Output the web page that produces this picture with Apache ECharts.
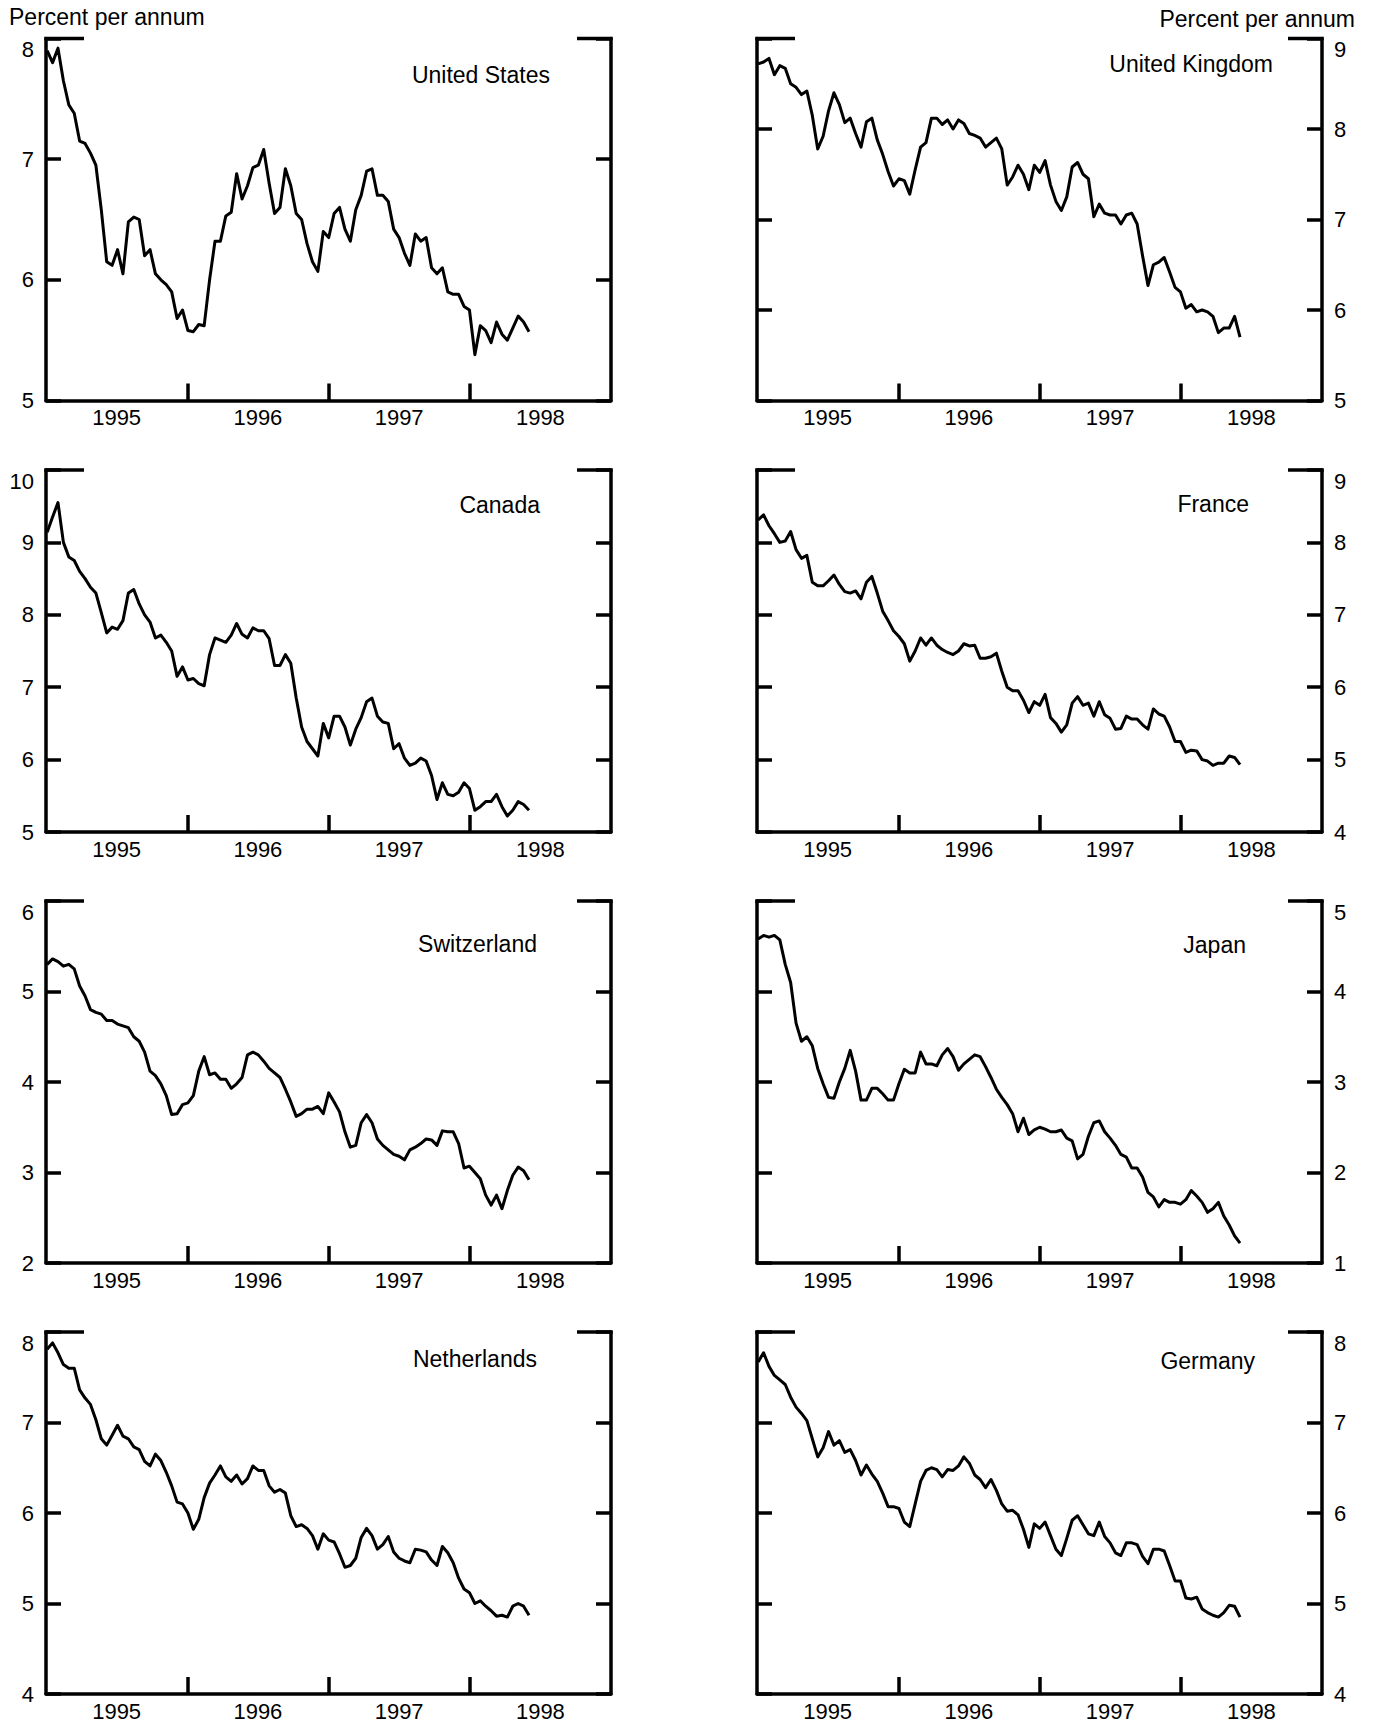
<!DOCTYPE html>
<html>
<head>
<meta charset="utf-8">
<script src="https://cdn.jsdelivr.net/npm/echarts@6/dist/echarts.min.js"></script>
<style>
html,body{margin:0;padding:0;background:#ffffff;}
#chart{width:1374px;height:1726px;}
</style>
</head>
<body>
<div id="chart"></div>
<script>
// ---------------- data ----------------
const yearLabels = ['1995', '1996', '1997', '1998'];
const yAxisUnit = 'Percent per annum';
const sampleStepDays = 14;   // one reading every two weeks, starting early Jan 1995
const sampleOffsetDays = 3;

const usRates = [7.9,7.8,7.92,7.65,7.45,7.38,7.15,7.13,7.05,6.95,
  6.58,6.15,6.12,6.25,6.05,6.48,6.52,6.5,6.2,6.25,
  6.05,6.0,5.96,5.9,5.68,5.75,5.58,5.57,5.63,5.62,
  6.0,6.32,6.32,6.53,6.56,6.88,6.67,6.78,6.93,6.95,
  7.08,6.8,6.55,6.6,6.92,6.78,6.55,6.5,6.3,6.15,
  6.07,6.4,6.35,6.55,6.6,6.42,6.32,6.58,6.7,6.9,
  6.92,6.7,6.7,6.65,6.42,6.35,6.22,6.12,6.38,6.32,
  6.35,6.1,6.05,6.1,5.9,5.88,5.88,5.78,5.75,5.38,
  5.62,5.58,5.48,5.65,5.55,5.5,5.6,5.7,5.65,5.57];

const ukRates = [8.72,8.74,8.78,8.6,8.7,8.67,8.5,8.46,8.38,8.42,
  8.15,7.78,7.92,8.2,8.4,8.27,8.07,8.12,7.95,7.8,
  8.08,8.12,7.88,7.72,7.53,7.37,7.45,7.43,7.28,7.55,
  7.8,7.85,8.12,8.12,8.05,8.1,8.0,8.1,8.06,7.95,
  7.93,7.9,7.8,7.85,7.9,7.78,7.38,7.47,7.6,7.5,
  7.33,7.6,7.52,7.65,7.38,7.2,7.1,7.25,7.58,7.63,
  7.5,7.45,7.03,7.17,7.07,7.05,7.05,6.95,7.05,7.07,
  6.95,6.6,6.27,6.5,6.53,6.58,6.42,6.25,6.2,6.02,
  6.06,5.98,6.0,5.98,5.93,5.75,5.8,5.8,5.93,5.7];

const caRates = [9.14,9.35,9.55,9.0,8.8,8.75,8.6,8.5,8.38,8.3,
  8.03,7.75,7.83,7.8,7.92,8.3,8.35,8.15,8.0,7.9,
  7.68,7.72,7.62,7.5,7.15,7.28,7.1,7.12,7.05,7.02,
  7.45,7.68,7.65,7.62,7.72,7.88,7.73,7.68,7.82,7.78,
  7.78,7.67,7.3,7.3,7.45,7.33,6.85,6.45,6.25,6.15,
  6.05,6.5,6.3,6.6,6.6,6.45,6.2,6.42,6.58,6.8,
  6.85,6.6,6.52,6.5,6.15,6.22,6.02,5.92,5.95,6.02,
  5.98,5.78,5.45,5.68,5.52,5.5,5.55,5.68,5.6,5.3,
  5.35,5.42,5.42,5.52,5.35,5.22,5.3,5.42,5.38,5.3];

const frRates = [8.31,8.38,8.23,8.12,8.0,8.02,8.15,7.9,7.78,7.82,
  7.45,7.4,7.4,7.47,7.55,7.42,7.32,7.3,7.33,7.22,
  7.45,7.53,7.3,7.05,6.92,6.78,6.7,6.6,6.36,6.5,
  6.68,6.58,6.68,6.58,6.52,6.48,6.45,6.5,6.6,6.57,
  6.58,6.4,6.4,6.42,6.47,6.22,6.0,5.95,5.95,5.82,
  5.65,5.8,5.75,5.9,5.58,5.5,5.38,5.48,5.78,5.87,
  5.75,5.78,5.6,5.8,5.62,5.57,5.42,5.43,5.6,5.56,
  5.56,5.48,5.42,5.7,5.63,5.6,5.45,5.25,5.25,5.1,
  5.13,5.12,5.0,4.98,4.92,4.95,4.95,5.05,5.03,4.93];

const chRates = [5.3,5.36,5.33,5.28,5.3,5.25,5.06,4.95,4.8,4.77,
  4.75,4.68,4.68,4.64,4.62,4.6,4.5,4.45,4.33,4.12,
  4.07,3.98,3.85,3.64,3.65,3.75,3.77,3.85,4.12,4.28,
  4.08,4.1,4.03,4.03,3.93,3.98,4.05,4.3,4.33,4.3,
  4.23,4.15,4.1,4.05,3.92,3.78,3.62,3.65,3.7,3.7,
  3.73,3.65,3.88,3.78,3.67,3.45,3.28,3.3,3.55,3.64,
  3.55,3.37,3.3,3.25,3.2,3.18,3.14,3.25,3.28,3.32,
  3.37,3.36,3.3,3.46,3.45,3.45,3.32,3.05,3.07,3.0,
  2.93,2.75,2.64,2.75,2.6,2.8,2.97,3.06,3.02,2.92];

const jpRates = [4.58,4.62,4.6,4.62,4.57,4.3,4.1,3.65,3.45,3.5,
  3.4,3.15,2.98,2.83,2.82,3.0,3.15,3.35,3.12,2.8,
  2.8,2.93,2.93,2.87,2.8,2.8,2.98,3.14,3.1,3.1,
  3.33,3.2,3.2,3.18,3.3,3.37,3.28,3.13,3.2,3.25,
  3.3,3.28,3.17,3.05,2.92,2.83,2.75,2.65,2.45,2.6,
  2.42,2.47,2.5,2.48,2.45,2.45,2.47,2.38,2.35,2.15,
  2.2,2.4,2.55,2.57,2.45,2.38,2.3,2.2,2.17,2.05,
  2.05,1.95,1.78,1.73,1.62,1.7,1.67,1.67,1.65,1.7,
  1.8,1.74,1.67,1.56,1.6,1.67,1.52,1.42,1.3,1.22];

const nlRates = [7.81,7.88,7.77,7.64,7.6,7.6,7.36,7.27,7.2,7.03,
  6.82,6.75,6.86,6.97,6.85,6.82,6.73,6.7,6.57,6.52,
  6.65,6.58,6.45,6.3,6.12,6.1,6.0,5.82,5.93,6.17,
  6.33,6.42,6.52,6.4,6.35,6.42,6.32,6.38,6.52,6.47,
  6.47,6.3,6.23,6.26,6.22,5.97,5.85,5.87,5.83,5.75,
  5.6,5.77,5.7,5.68,5.55,5.4,5.42,5.5,5.73,5.83,
  5.75,5.6,5.65,5.74,5.57,5.5,5.47,5.45,5.6,5.59,
  5.57,5.48,5.42,5.63,5.56,5.45,5.28,5.16,5.12,5.0,
  5.03,4.97,4.92,4.86,4.87,4.85,4.97,5.0,4.97,4.87];

const deRates = [7.67,7.77,7.62,7.52,7.47,7.42,7.28,7.17,7.1,7.02,
  6.82,6.62,6.72,6.9,6.75,6.8,6.67,6.7,6.58,6.42,
  6.53,6.43,6.35,6.22,6.07,6.07,6.05,5.9,5.85,6.1,
  6.35,6.47,6.5,6.48,6.4,6.48,6.47,6.52,6.62,6.55,
  6.42,6.37,6.28,6.37,6.25,6.1,6.02,6.03,5.98,5.82,
  5.62,5.88,5.83,5.9,5.75,5.6,5.53,5.72,5.92,5.97,
  5.87,5.77,5.75,5.9,5.74,5.67,5.56,5.53,5.67,5.67,
  5.65,5.52,5.44,5.6,5.6,5.58,5.42,5.25,5.25,5.06,
  5.05,5.07,4.94,4.9,4.87,4.85,4.9,4.98,4.97,4.85];

const countryNames = ['United States','United Kingdom','Canada','France','Switzerland','Japan','Netherlands','Germany'];
const countryRates = [usRates, ukRates, caRates, frRates, chRates, jpRates, nlRates, deRates];
const axisMins = [5, 5, 5, 4, 2, 1, 4, 4];
const axisMaxs = [8, 9, 10, 9, 6, 5, 8, 8];

// ---------------- layout ----------------
const FONT = '"Liberation Sans", Arial, Helvetica, sans-serif';
const colLeft = [46, 757];
const gridW = 565;
const rowTop = [38.5, 470, 901, 1332];
const gridH = 362;
// country label: right end x offset from grid right, centre y offset from grid top
const titleOffsets = [[61, 36.5],[49, 25.5],[71, 35],[73, 34],[74, 43],[76, 44],[74, 27],[67, 29]];
const AXIS_W = 3.5;

const grids = [], xAxes = [], yAxes = [], series = [], graphics = [];

countryNames.forEach((name, p) => {
  const col = p % 2, row = Math.floor(p / 2);
  const L = colLeft[col], T = rowTop[row], R = L + gridW;
  grids.push({left: L, top: T, width: gridW, height: gridH, containLabel: false});

  xAxes.push({
    type: 'value', gridIndex: p, min: 0, max: 4,
    axisLine: {show: true, lineStyle: {color: '#000', width: AXIS_W}},
    axisTick: {show: true, inside: true, length: 17, customValues: [1, 2, 3],
      lineStyle: {color: '#000', width: AXIS_W}},
    axisLabel: {show: true, customValues: [0.5, 1.5, 2.5, 3.5],
      formatter: v => yearLabels[Math.floor(v)],
      fontSize: 22, color: '#000', fontFamily: FONT, margin: 6},
    splitLine: {show: false}
  });

  ['left', 'right'].forEach((pos, k) => {
    yAxes.push({
      type: 'value', gridIndex: p, position: pos,
      min: axisMins[p], max: axisMaxs[p], interval: 1,
      axisLine: {show: true, onZero: false, lineStyle: {color: '#000', width: AXIS_W}},
      axisTick: {show: true, inside: true, length: 15, lineStyle: {color: '#000', width: AXIS_W}},
      axisLabel: {show: k === col, fontSize: 22, color: '#000', fontFamily: FONT,
        margin: 12, verticalAlignMaxLabel: 'top'},
      splitLine: {show: false}
    });
  });

  series.push({
    type: 'line', name: name, xAxisIndex: p, yAxisIndex: p * 2,
    data: countryRates[p].map((v, i) => [(i * sampleStepDays + sampleOffsetDays) / 365.25, v]),
    showSymbol: false, symbol: 'none',
    lineStyle: {color: '#000', width: 3, join: 'round'},
    animation: false
  });

  // short stubs on the top edge at each corner
  graphics.push({type: 'line', shape: {x1: L - 1.75, y1: T, x2: L + 38, y2: T},
    style: {stroke: '#000', lineWidth: AXIS_W}});
  graphics.push({type: 'line', shape: {x1: R - 34, y1: T, x2: R + 1.75, y2: T},
    style: {stroke: '#000', lineWidth: AXIS_W}});

  graphics.push({type: 'text', style: {
    text: name, x: R - titleOffsets[p][0], y: T + titleOffsets[p][1],
    textAlign: 'right', textVerticalAlign: 'middle',
    font: '23px ' + FONT, fill: '#000'}});
});

graphics.push({type: 'text', style: {text: yAxisUnit, x: 9, y: 17,
  textAlign: 'left', textVerticalAlign: 'middle', font: '23px ' + FONT, fill: '#000'}});
graphics.push({type: 'text', style: {text: yAxisUnit, x: 1355, y: 19,
  textAlign: 'right', textVerticalAlign: 'middle', font: '23px ' + FONT, fill: '#000'}});

const chart = echarts.init(document.getElementById('chart'), null, {renderer: 'svg'});
chart.setOption({
  backgroundColor: '#ffffff',
  animation: false,
  grid: grids,
  xAxis: xAxes,
  yAxis: yAxes,
  series: series,
  graphic: graphics
});
</script>
</body>
</html>
